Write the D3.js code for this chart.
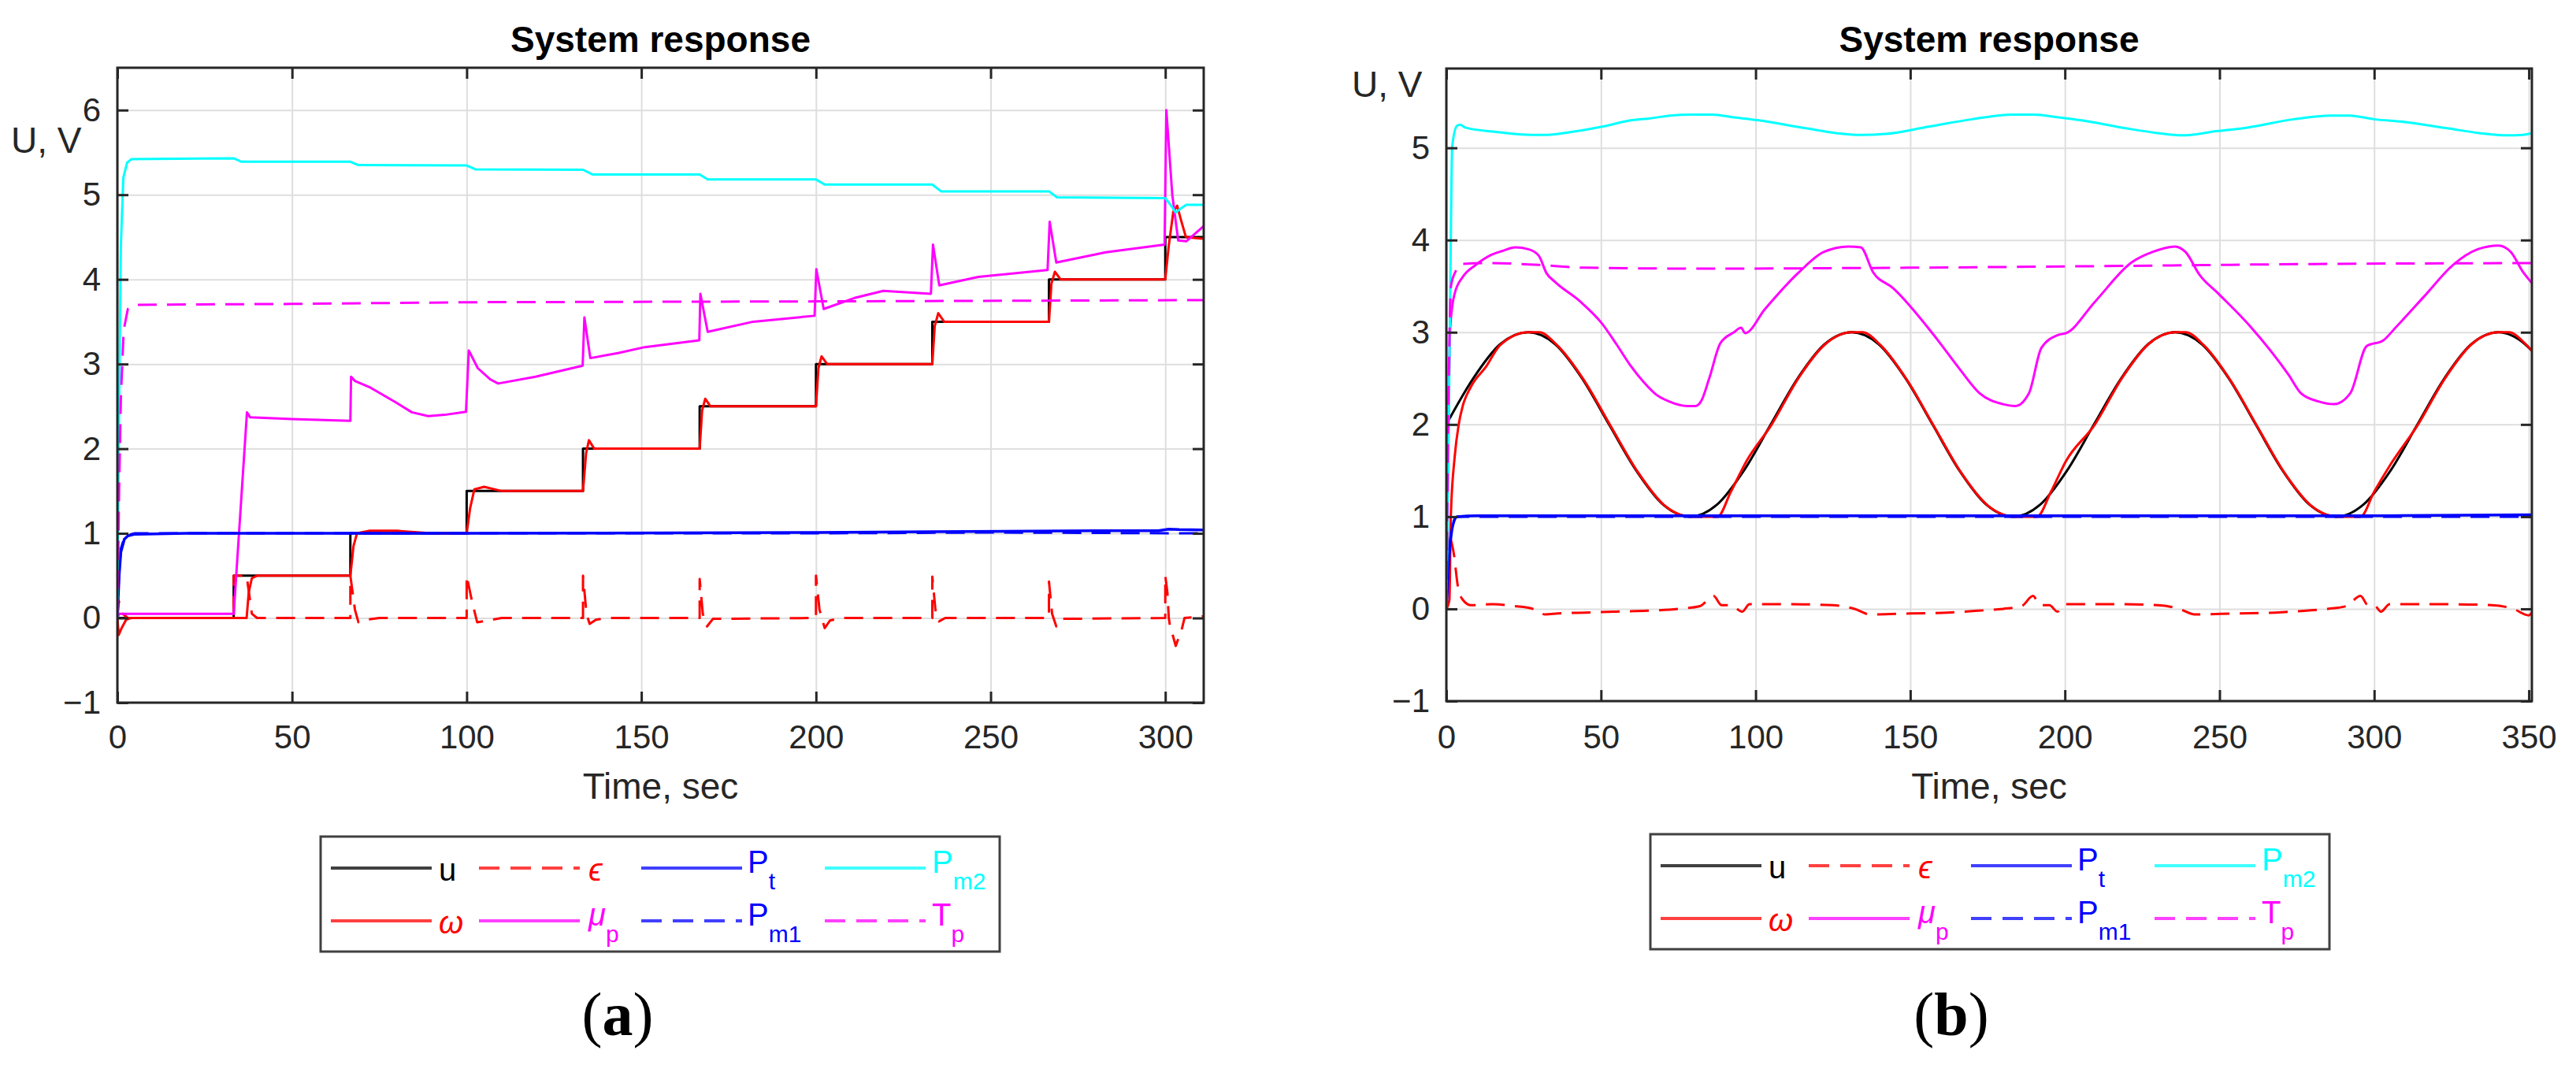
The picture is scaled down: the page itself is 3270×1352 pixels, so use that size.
<!DOCTYPE html>
<html>
<head>
<meta charset="utf-8">
<script src="https://cdn.jsdelivr.net/npm/d3@7"></script>
<style>
  body { margin: 0; background: #fff; }
</style>
</head>
<body>
<script>
// ---- panel (a): step reference, [time, value] pairs ----
var uA = [[0,0],[33.3,0],[33.3,0.5],[66.7,0.5],[66.7,1],[100,1],[100,1.5],[133.3,1.5],[133.3,2],
  [166.7,2],[166.7,2.5],[200,2.5],[200,3],[233.3,3],[233.3,3.5],[266.7,3.5],[266.7,4],[300,4],[300,4.5],[311,4.5]];
var omegaA = [[0,0],[0.4,-0.2],[1.2,-0.12],[2.5,-0.02],[4,0],[33.3,0],[37,0],[37.6,0.3],[38.5,0.47],[40,0.5],
  [66.7,0.5],[67.6,0.85],[68.6,1.0],[72,1.03],[80,1.03],[90,1.0],[100,1.0],[101,1.3],[102.2,1.52],[105,1.55],[110,1.5],
  [133.3,1.5],[134.2,1.95],[135,2.1],[136.5,2.0],[166.7,2.0],[167.4,2.45],[168.3,2.59],[169.8,2.5],
  [200,2.5],[200.7,2.95],[201.6,3.09],[203.2,3.0],[233.3,3.0],[234,3.45],[235,3.6],[236.7,3.5],
  [266.7,3.5],[267.4,3.95],[268.4,4.09],[270,4.0],[300,4.0],[301,4.4],[302.3,4.8],[303.4,4.87],[304.5,4.7],[305.9,4.5],[311,4.48]];
var epsA = [[0,0],[0.4,0.2],[1.5,0.05],[3,0],[33.3,0],[33.3,0.5],[37,0.5],[38.5,0.05],[40,0],
  [66.7,0],[66.7,0.5],[68,0.1],[69,-0.05],[71,-0.02],[75,0],[100,0],[100,0.5],[101.5,0.2],[103,-0.05],[106,-0.03],[110,0],
  [133.3,0],[133.3,0.5],[134.3,0.05],[135.2,-0.07],[137,-0.02],[140,0],[166.7,0],[166.7,0.46],[167.6,0.05],[168.8,-0.1],[170.5,-0.01],
  [200,0],[200,0.5],[201,0.1],[202.5,-0.12],[204,-0.03],[207,0],[233.3,0],[233.3,0.49],[234.3,0.05],[235.2,-0.04],[237,0],
  [266.7,0],[266.7,0.43],[267.6,0.05],[268.8,-0.1],[270.5,-0.01],[300,0],[300,0.5],[300.6,0.3],[301,0],[301.3,-0.08],
  [303,-0.33],[304.8,-0.12],[305.5,0],[311,0.02]];
var muA = [[0,0],[0.5,0.05],[33.3,0.05],[37.1,2.43],[38,2.37],[50,2.35],[66.7,2.33],[66.9,2.85],[68,2.8],[72.5,2.72],
  [79.6,2.55],[84.3,2.43],[89,2.385],[93.7,2.4],[99.8,2.435],[100.6,3.16],[103.2,2.95],[106.7,2.82],[109,2.77],[119.7,2.85],
  [133.2,2.98],[133.7,3.55],[135.4,3.07],[143.3,3.13],[151,3.2],[166.6,3.28],[166.9,3.83],[169,3.38],[182,3.5],[199.6,3.57],
  [200.1,4.12],[202.2,3.65],[211,3.78],[219.3,3.865],[232.9,3.83],[233.5,4.41],[235.3,3.93],[246.5,4.03],[266.3,4.11],
  [266.9,4.68],[268.8,4.2],[283,4.32],[299.8,4.41],[300.3,6.0],[302,5.0],[303.7,4.46],[306,4.45],[311,4.63]];
var ptA = [[0,0],[0.5,0.5],[1,0.78],[2,0.93],[3,0.97],[5,0.99],[20,1.0],[100,1.0],[200,1.01],[233,1.02],
  [280,1.03],[298,1.03],[301,1.05],[304,1.045],[311,1.04]];
var pm1A = [[0,0],[0.5,0.55],[1,0.82],[2,0.95],[3,0.98],[5,1.0],[100,1.0],[200,1.0],[250,1.01],[311,1.0]];
var pm2A = [[0,0],[0.5,2.5],[1,4.4],[1.7,5.2],[2.8,5.38],[4,5.42],[33.3,5.43],[35.5,5.39],[66.7,5.39],[69,5.35],
  [100,5.345],[102.5,5.3],[133.3,5.295],[136,5.24],[166.7,5.24],[169,5.18],[200,5.18],[202.5,5.12],[233.3,5.12],[235.8,5.04],
  [266.7,5.04],[269,4.97],[300,4.96],[301.5,4.88],[303,4.79],[304.5,4.84],[306,4.88],[311,4.88]];
var tpA = [[0,0],[0.5,1.5],[1,2.6],[1.8,3.4],[3,3.65],[5,3.7],[50,3.71],[100,3.73],[200,3.74],[311,3.755]];

// ---- panel (b): sinusoidal reference ----
var uB = [[0,2.0],[8.7,2.5],[17.4,2.87],[26.5,3.0],[35.2,2.87],[43.9,2.5],[52.6,2.0],[61.4,1.5],[70.1,1.13],[78.8,1.0],
  [87.5,1.13],[96.2,1.5],[104.9,2.0],[113.6,2.5],[122.3,2.87],[131,3.0],[139.8,2.87],[148.5,2.5],[157.2,2.0],[165.9,1.5],
  [174.6,1.13],[183.3,1.0],[192,1.13],[200.7,1.5],[209.4,2.0],[218.2,2.5],[226.9,2.87],[235.6,3.0],[244.3,2.87],[253,2.5],
  [261.7,2.0],[270.4,1.5],[279.1,1.13],[287.8,1.0],[296.5,1.13],[305.3,1.5],[314,2.0],[322.7,2.5],[331.4,2.87],[340.1,3.0],
  [348.8,2.87],[351,2.8]];
var omegaB = [[0,0],[1.0,0.1],[1.44,1.0],[2.7,1.65],[4.0,2.0],[5.3,2.2],[7.8,2.4],[12.9,2.63],[17.4,2.86],[26.5,3.0],[30,3.0],
  [35.8,2.86],[44.5,2.48],[53.2,1.98],[62,1.48],[70.6,1.12],[77,1.01],[80,1.0],[87.7,1.0],[92,1.27],[97,1.6],[105.2,2.0],
  [113.8,2.5],[122.5,2.87],[131,3.0],[134.5,3.0],[140.4,2.86],[149,2.48],[157.7,1.98],[166.4,1.48],[175.1,1.12],[181.5,1.01],
  [184.5,1.0],[191,1.0],[195.5,1.27],[200.3,1.6],[209.7,2.0],[218.4,2.5],[227,2.87],[235.6,3.0],[239,3.0],[244.9,2.86],
  [253.5,2.48],[262.2,1.98],[270.9,1.48],[279.6,1.12],[286,1.01],[289,1.0],[295.6,1.0],[300,1.27],[305,1.55],[314.2,2.0],
  [322.9,2.5],[331.5,2.87],[340.1,3.0],[343.5,3.0],[349.3,2.86],[351,2.8]];
var epsB = [[0,0],[0.4,0.85],[1.0,0.8],[2.5,0.58],[3.7,0.25],[5.3,0.1],[8,0.04],[15,0.05],[22,0.03],[28,0.0],[32,-0.06],
  [36,-0.05],[45,-0.04],[55,-0.03],[65,-0.02],[75,0.0],[82,0.03],[86.4,0.14],[89,0.04],[92,0.04],[95.7,-0.03],[98,0.05],
  [112,0.05],[125,0.04],[132,0.0],[137,-0.06],[150,-0.05],[162,-0.04],[172,-0.02],[180,0.0],[186,0.03],[189.7,0.14],
  [192,0.04],[195,0.04],[197.6,-0.03],[200,0.05],[218,0.05],[230,0.04],[237,0.0],[242,-0.06],[255,-0.05],[268,-0.04],
  [278,-0.02],[285,0.0],[291,0.03],[295.6,0.14],[298,0.04],[300,0.04],[302.2,-0.03],[305,0.05],[325,0.05],[338,0.04],
  [345,0.0],[350,-0.07],[351,-0.04]];
var muB = [[0,0],[0.5,1.5],[1.2,3.0],[1.9,3.28],[2.7,3.42],[5.3,3.6],[9.5,3.73],[14.6,3.84],[18,3.88],[22.3,3.92],[26.5,3.9],
  [29.9,3.83],[32.4,3.64],[35,3.55],[43.4,3.33],[50.2,3.1],[55,2.87],[59.5,2.64],[63.8,2.46],[68,2.32],[72,2.25],[78,2.2],
  [80.5,2.2],[82.5,2.26],[85,2.5],[88.6,2.88],[93,3.0],[95.3,3.05],[96.6,2.99],[103,3.25],[114,3.65],[122,3.87],[130,3.93],
  [134,3.92],[138,3.65],[144.4,3.48],[159,2.91],[166,2.6],[172.4,2.34],[180,2.22],[184,2.2],[188.4,2.34],[192.4,2.83],
  [197.7,2.97],[200.4,2.99],[209.7,3.33],[221.7,3.76],[228.3,3.87],[235.6,3.93],[239,3.87],[243.6,3.62],[249.6,3.42],
  [260.3,3.05],[272.3,2.54],[276.3,2.34],[282,2.25],[287,2.22],[292.3,2.34],[297.6,2.85],[302.9,2.91],[306.9,3.05],
  [316.2,3.39],[325.5,3.73],[333.5,3.9],[340.2,3.94],[344.2,3.87],[348.2,3.65],[351.1,3.53]];
var ptB = [[0,0],[1,0.6],[2.2,0.92],[3.5,1.0],[10,1.01],[100,1.01],[200,1.01],[300,1.01],[351,1.02]];
var pm1B = [[0,0],[1,0.65],[2.2,0.94],[3.5,1.0],[351,1.0]];
var pm2B = [[0,0],[0.6,1.5],[1.2,3.24],[1.9,5.02],[3.5,5.24],[4.5,5.25],[6.1,5.22],[16.7,5.17],[27.4,5.14],[31.4,5.14],
  [40,5.17],[50.4,5.23],[60,5.3],[66,5.32],[72.5,5.35],[79,5.36],[86,5.36],[93,5.33],[100.6,5.3],[116.6,5.21],[126,5.16],
  [134,5.14],[142,5.15],[156,5.23],[170,5.31],[183,5.36],[190,5.36],[198,5.33],[205,5.3],[220,5.21],[230,5.16],[238,5.135],
  [249,5.18],[259,5.22],[274,5.31],[286,5.35],[292,5.35],[300,5.31],[310,5.28],[324,5.21],[334,5.16],[343,5.135],[348,5.14],[351,5.16]];
var tpB = [[0,0],[0.8,2.5],[1.5,3.5],[3,3.66],[5,3.74],[15,3.75],[30,3.73],[45,3.7],[80,3.69],[150,3.7],[220,3.72],[280,3.74],[351,3.75]];

// ---- ticks and labels ----
var xTicksA = [0, 50, 100, 150, 200, 250, 300];
var yTicksA = [-1, 0, 1, 2, 3, 4, 5, 6];
var xTicksB = [0, 50, 100, 150, 200, 250, 300, 350];
var yTicksB = [-1, 0, 1, 2, 3, 4, 5];
var legendKeys = [["u", "eps", "pt", "pm2"], ["omega", "mu", "pm1", "tp"]];
var legendLabels = { u: "u", eps: "ϵ", pt: "P_t", pm2: "P_m2", omega: "ω", mu: "μ_p", pm1: "P_m1", tp: "T_p" };

var width = 3270, height = 1352;
var sans = "Liberation Sans, Arial, Helvetica, sans-serif";
var svg = d3.select("body").append("svg").attr("width", width).attr("height", height)
  .style("font-family", sans);

var drawOrder = ["u", "omega", "eps", "mu", "pt", "pm1", "pm2", "tp"];
var styles = {
  u:     { color: "#000000", dash: null, w: 3 },
  omega: { color: "#ff0000", dash: null, w: 3 },
  eps:   { color: "#ff0000", dash: "24,13", w: 3 },
  mu:    { color: "#ff00ff", dash: null, w: 3 },
  pt:    { color: "#0000ff", dash: null, w: 3.5 },
  pm1:   { color: "#0000ff", dash: "24,13", w: 3 },
  pm2:   { color: "#00ffff", dash: null, w: 3 },
  tp:    { color: "#ff00ff", dash: "24,13", w: 3 }
};
var axisColor = "#262626";
var intFmt = d3.format("d");

function drawPanel(p) {
  var x = d3.scaleLinear().domain([0, p.xMax]).range([p.left, p.right]);
  var y = d3.scaleLinear().domain([-1, p.yMax]).range([p.bottom, p.top]);
  var g = svg.append("g");
  var h = p.bottom - p.top, w = p.right - p.left;

  // grid
  g.append("g").attr("transform", "translate(0," + p.bottom + ")")
    .call(d3.axisBottom(x).tickValues(p.xTicks).tickSize(-h).tickFormat(""))
    .call(function(s) { s.select(".domain").remove(); })
    .selectAll("line").attr("stroke", "#dedede").attr("stroke-width", 2);
  g.append("g").attr("transform", "translate(" + p.left + ",0)")
    .call(d3.axisLeft(y).tickValues(p.yTicks).tickSize(-w).tickFormat(""))
    .call(function(s) { s.select(".domain").remove(); })
    .selectAll("line").attr("stroke", "#dedede").attr("stroke-width", 2);

  // data lines
  svg.append("clipPath").attr("id", "clip" + p.id)
    .append("rect").attr("x", p.left).attr("y", p.top).attr("width", w).attr("height", h);
  var line = d3.line().x(function(d) { return x(d[0]); }).y(function(d) { return y(d[1]); }).curve(p.curve);
  var lines = g.append("g").attr("clip-path", "url(#clip" + p.id + ")");
  drawOrder.forEach(function(k) {
    var st = styles[k];
    lines.append("path").datum(p.series[k])
      .attr("d", line)
      .attr("fill", "none")
      .attr("stroke", st.color)
      .attr("stroke-width", st.w)
      .attr("stroke-linejoin", "round")
      .attr("stroke-dasharray", st.dash);
  });

  // box
  g.append("rect").attr("x", p.left).attr("y", p.top).attr("width", w).attr("height", h)
    .attr("fill", "none").attr("stroke", axisColor).attr("stroke-width", 3);

  // ticks
  function styleAxis(s) {
    s.attr("font-size", 42).attr("font-family", sans).attr("color", axisColor);
    s.select(".domain").remove();
    s.selectAll(".tick line").attr("stroke-width", 3);
  }
  g.append("g").attr("transform", "translate(0," + p.bottom + ")")
    .call(d3.axisBottom(x).tickValues(p.xTicks).tickSize(-14).tickPadding(p.xPad).tickFormat(intFmt)).call(styleAxis);
  g.append("g").attr("transform", "translate(0," + p.top + ")")
    .call(d3.axisTop(x).tickValues(p.xTicks).tickSize(-14).tickFormat("")).call(styleAxis);
  g.append("g").attr("transform", "translate(" + p.left + ",0)")
    .call(d3.axisLeft(y).tickValues(p.yTicks).tickSize(-14).tickPadding(21).tickFormat(intFmt)).call(styleAxis);
  g.append("g").attr("transform", "translate(" + p.right + ",0)")
    .call(d3.axisRight(y).tickValues(p.yTicks).tickSize(-14).tickFormat("")).call(styleAxis);

  // titles
  var cx = (p.left + p.right) / 2;
  g.append("text").attr("x", cx).attr("y", 66).attr("text-anchor", "middle")
    .attr("font-size", 46).attr("font-weight", "bold").attr("fill", "#000").text("System response");
  g.append("text").attr("x", cx).attr("y", 1014).attr("text-anchor", "middle")
    .attr("font-size", 46).attr("fill", axisColor).text("Time, sec");
  g.append("text").attr("x", p.ylabX).attr("y", p.ylabY)
    .attr("font-size", 46).attr("fill", axisColor).text("U, V");

  drawLegend(g, p.legX, p.legY);

  var cap = g.append("text").attr("x", p.capX).attr("y", 1314).attr("text-anchor", "middle")
    .style("font-family", "Liberation Serif, Times New Roman, serif").attr("font-size", 78).attr("fill", "#000");
  cap.append("tspan").text("(");
  cap.append("tspan").attr("font-weight", "bold").text(p.cap);
  cap.append("tspan").text(")");
}

function drawLegend(g, bx, by) {
  var lg = g.append("g");
  lg.append("rect").attr("x", bx).attr("y", by).attr("width", 862).attr("height", 146)
    .attr("fill", "#fff").attr("stroke", "#404040").attr("stroke-width", 3);
  var lineX = [13, 201, 407, 640], textX = [150, 340, 542, 776];
  legendKeys.forEach(function(row, r) {
    var ry = by + 40 + r * 67;
    row.forEach(function(k, c) {
      var st = styles[k];
      lg.append("line").attr("x1", bx + lineX[c]).attr("x2", bx + lineX[c] + 128)
        .attr("y1", ry).attr("y2", ry)
        .attr("stroke", st.color).attr("stroke-width", 4).attr("stroke-opacity", 0.75)
        .attr("stroke-dasharray", st.dash ? "26,14" : null);
      var parts = legendLabels[k].split("_");
      var t = lg.append("text").attr("x", bx + textX[c]).attr("y", ry + (parts.length > 1 ? 6 : 16))
        .attr("font-size", 40).attr("fill", st.color);
      var main = t.append("tspan").text(parts[0]);
      if (/[ϵωμ]/.test(parts[0])) main.attr("font-style", "italic");
      if (parts.length > 1) t.append("tspan").attr("font-size", 30).attr("dy", 21).text(parts[1]);
    });
  });
}

drawPanel({
  id: "A", left: 149, right: 1528, top: 86, bottom: 892, xMax: 311, yMax: 6.5,
  xTicks: xTicksA, yTicks: yTicksA, xPad: 28, curve: d3.curveLinear,
  series: { u: uA, omega: omegaA, eps: epsA, mu: muA, pt: ptA, pm1: pm1A, pm2: pm2A, tp: tpA },
  ylabX: 14, ylabY: 194, legX: 407, legY: 1062, capX: 784, cap: "a"
});
drawPanel({
  id: "B", left: 1836, right: 3214, top: 87, bottom: 890, xMax: 351, yMax: 5.86,
  xTicks: xTicksB, yTicks: yTicksB, xPad: 30, curve: d3.curveMonotoneX,
  series: { u: uB, omega: omegaB, eps: epsB, mu: muB, pt: ptB, pm1: pm1B, pm2: pm2B, tp: tpB },
  ylabX: 1716, ylabY: 123, legX: 2095, legY: 1059, capX: 2477, cap: "b"
});
</script>
</body>
</html>
